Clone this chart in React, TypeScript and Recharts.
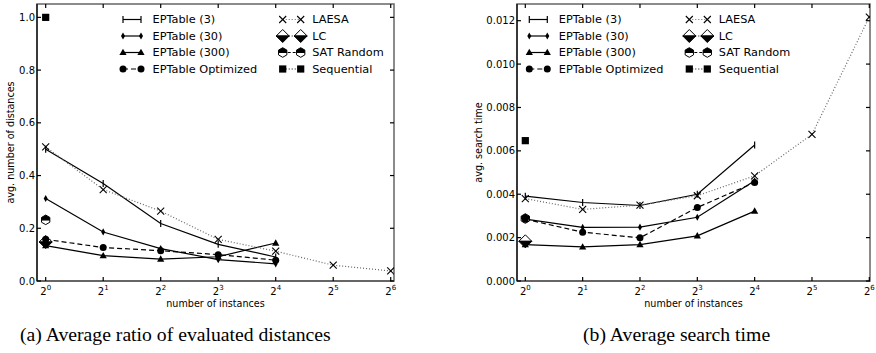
import React from "react";
import { LineChart, Line, XAxis, YAxis, ReferenceArea } from "recharts";

// log2 of the number of instances: 2^0 .. 2^6
const EXPONENTS = [0, 1, 2, 3, 4, 5, 6];

// (a) average ratio of evaluated distances
const ratioEPT3 = [0.5, 0.37, 0.218, 0.139, 0.091];
const ratioEPT30 = [0.313, 0.186, 0.123, 0.081, 0.065];
const ratioEPT300 = [0.134, 0.096, 0.083, 0.092, 0.144];
const ratioEPTOpt = [0.158, 0.127, 0.115, 0.1, 0.079];
const ratioLAESA = [0.509, 0.347, 0.265, 0.158, 0.113, 0.06, 0.038];
const ratioLC = [0.148];
const ratioSAT = [0.232];
const ratioSeq = [1.0];
const ratioTicks = [0, 0.2, 0.4, 0.6, 0.8, 1.0];

// (b) average search time
const timeEPT3 = [0.00391, 0.00362, 0.00348, 0.004, 0.00627];
const timeEPT30 = [0.00285, 0.00247, 0.00248, 0.00294, 0.00462];
const timeEPT300 = [0.00168, 0.00157, 0.00168, 0.00208, 0.00322];
const timeEPTOpt = [0.00285, 0.00225, 0.00199, 0.00339, 0.00454];
const timeLAESA = [0.0038, 0.0033, 0.0035, 0.00393, 0.00485, 0.00676, 0.01217];
const timeLC = [0.00183];
const timeSAT = [0.00288];
const timeSeq = [0.00647];
const timeTicks = [0, 0.002, 0.004, 0.006, 0.008, 0.01, 0.012];

const FONT = "'DejaVu Sans', sans-serif";

type Shape = "vtick" | "thin" | "tri" | "circle" | "x" | "lc" | "hex" | "square";

function Marker({ shape, cx, cy }: { shape: Shape; cx: number; cy: number }) {
  switch (shape) {
    case "vtick":
      return <line x1={cx} x2={cx} y1={cy - 3.5} y2={cy + 3.5} stroke="#000" strokeWidth={1.2} />;
    case "thin":
      return (
        <polygon
          points={`${cx},${cy - 3.6} ${cx + 2},${cy} ${cx},${cy + 3.6} ${cx - 2},${cy}`}
          fill="#000"
        />
      );
    case "tri":
      return (
        <polygon
          points={`${cx},${cy - 3.8} ${cx + 3.6},${cy + 2.6} ${cx - 3.6},${cy + 2.6}`}
          fill="#000"
        />
      );
    case "circle":
      return <circle cx={cx} cy={cy} r={3.5} fill="#000" />;
    case "x":
      return (
        <g stroke="#000" strokeWidth={1.1}>
          <line x1={cx - 3.5} y1={cy - 3.5} x2={cx + 3.5} y2={cy + 3.5} />
          <line x1={cx - 3.5} y1={cy + 3.5} x2={cx + 3.5} y2={cy - 3.5} />
        </g>
      );
    case "lc": {
      const r = 6.5;
      return (
        <g stroke="#000" strokeWidth={1}>
          <polygon points={`${cx - r},${cy} ${cx},${cy - r} ${cx + r},${cy}`} fill="#fff" />
          <polygon points={`${cx - r},${cy} ${cx},${cy + r} ${cx + r},${cy}`} fill="#000" />
        </g>
      );
    }
    case "hex": {
      const r = 4.8;
      const w = 0.866 * r;
      return (
        <g stroke="#000" strokeWidth={1}>
          <polygon
            points={`${cx - w},${cy} ${cx - w},${cy + r / 2} ${cx},${cy + r} ${cx + w},${cy + r / 2} ${cx + w},${cy}`}
            fill="#fff"
          />
          <polygon
            points={`${cx - w},${cy} ${cx - w},${cy - r / 2} ${cx},${cy - r} ${cx + w},${cy - r / 2} ${cx + w},${cy}`}
            fill="#000"
          />
        </g>
      );
    }
    case "square":
      return <rect x={cx - 3.6} y={cy - 3.6} width={7.2} height={7.2} fill="#000" />;
  }
  return null;
}

type Series = {
  name: string;
  values: number[];
  shape: Shape;
  dash?: string;
  stroke?: string;
  legendDash?: string;
};

const makeSeries = (
  ept3: number[],
  ept30: number[],
  ept300: number[],
  eptOpt: number[],
  laesa: number[],
  lc: number[],
  sat: number[],
  seq: number[],
): Series[] => [
  { name: "EPTable (3)", values: ept3, shape: "vtick" },
  { name: "EPTable (30)", values: ept30, shape: "thin" },
  { name: "EPTable (300)", values: ept300, shape: "tri" },
  { name: "EPTable Optimized", values: eptOpt, shape: "circle", dash: "5 3" },
  { name: "LAESA", values: laesa, shape: "x", dash: "1 2", stroke: "#666" },
  { name: "LC", values: lc, shape: "lc", legendDash: "1 2" },
  { name: "SAT Random", values: sat, shape: "hex", legendDash: "3 2" },
  { name: "Sequential", values: seq, shape: "square", legendDash: "1 2" },
];

const ratioSeries = makeSeries(
  ratioEPT3, ratioEPT30, ratioEPT300, ratioEPTOpt, ratioLAESA, ratioLC, ratioSAT, ratioSeq,
);
const timeSeries = makeSeries(
  timeEPT3, timeEPT30, timeEPT300, timeEPTOpt, timeLAESA, timeLC, timeSAT, timeSeq,
);

const toPoints = (vals: number[]) => vals.map((v, i) => ({ x: EXPONENTS[i], y: v }));

// single-point series first so the EPTable markers sit on top of them
const DRAW_ORDER = [5, 6, 7, 0, 1, 2, 3, 4];

type PanelProps = {
  left: number;
  width: number;
  height: number;
  yAxisWidth: number;
  rightMargin: number;
  xDomain: [number, number];
  yDomain: [number, number];
  yTicks: number[];
  yDigits: number;
  series: Series[];
  yLabel: string;
  yLabelX: number;
  legendX: [number, number];
};

function Panel(p: PanelProps) {
  const top = 4;
  const xAxisH = 29;
  const plotH = p.height - top - xAxisH;
  const plotW = p.width - p.yAxisWidth - p.rightMargin;
  const plotL = p.yAxisWidth;

  const xTick = (t: any) => (
    <g>
      <line x1={t.x} x2={t.x} y1={t.y} y2={t.y - 4} stroke="#000" strokeWidth={1.2} />
      <line x1={t.x} x2={t.x} y1={t.y - plotH} y2={t.y - plotH + 4} stroke="#000" strokeWidth={1.2} />
      <text x={t.x} y={t.y + 14} textAnchor="middle" fontSize={10} fontFamily={FONT} fill="#000">
        <tspan>2</tspan>
        <tspan dy={-5} fontSize={7}>
          {t.payload.value}
        </tspan>
      </text>
    </g>
  );

  const yTick = (t: any) => (
    <g>
      <line x1={t.x} x2={t.x + 4} y1={t.y} y2={t.y} stroke="#000" strokeWidth={1.2} />
      <line x1={t.x + plotW - 4} x2={t.x + plotW} y1={t.y} y2={t.y} stroke="#000" strokeWidth={1.2} />
      <text
        x={t.x - 2}
        y={t.y}
        textAnchor="end"
        dominantBaseline="central"
        fontSize={10}
        fontFamily={FONT}
        fill="#000"
      >
        {Number(t.payload.value).toFixed(p.yDigits)}
      </text>
    </g>
  );

  const rows = [19.5, 36, 52.5, 69];

  return (
    <div style={{ position: "absolute", left: p.left, top: 0, width: p.width, height: p.height }}>
      <LineChart
        width={p.width}
        height={p.height}
        margin={{ top, right: p.rightMargin, left: 0, bottom: 0 }}
      >
        <XAxis
          type="number"
          dataKey="x"
          domain={p.xDomain}
          ticks={EXPONENTS}
          interval={0}
          allowDataOverflow
          height={xAxisH}
          tickSize={0}
          tickMargin={0}
          tick={xTick}
          axisLine={{ stroke: "#666", strokeWidth: 2 }}
        />
        <YAxis
          type="number"
          dataKey="y"
          domain={p.yDomain}
          ticks={p.yTicks}
          interval={0}
          allowDataOverflow
          width={p.yAxisWidth}
          tickSize={0}
          tickMargin={0}
          tick={yTick}
          axisLine={{ stroke: "#000", strokeWidth: 1.2 }}
        />
        <ReferenceArea
          x1={p.xDomain[0]}
          x2={p.xDomain[1]}
          y1={p.yDomain[0]}
          y2={p.yDomain[1]}
          fill="none"
          stroke="#666"
          strokeWidth={1.5}
        />
        {DRAW_ORDER.map((i) => {
          const s = p.series[i];
          return (
            <Line
              key={s.name}
              data={toPoints(s.values)}
              dataKey="y"
              name={s.name}
              type="linear"
              stroke={s.stroke ?? "#000"}
              strokeWidth={1.2}
              strokeDasharray={s.dash}
              isAnimationActive={false}
              dot={(d: any) =>
                d.cx == null || d.cy == null ? (
                  <g key={d.index} />
                ) : (
                  <Marker key={d.index} shape={s.shape} cx={d.cx} cy={d.cy} />
                )
              }
              activeDot={false}
            />
          );
        })}
      </LineChart>
      <svg
        width={p.width}
        height={p.height}
        style={{ position: "absolute", left: 0, top: 0, pointerEvents: "none" }}
      >
        {p.series.map((s, i) => {
          const col = i < 4 ? 0 : 1;
          const x0 = p.legendX[col];
          const y = rows[i % 4];
          return (
            <g key={s.name}>
              <line
                x1={x0}
                x2={x0 + 18}
                y1={y}
                y2={y}
                stroke={s.stroke ?? "#000"}
                strokeWidth={1.2}
                strokeDasharray={s.dash ?? s.legendDash}
              />
              <Marker shape={s.shape} cx={x0} cy={y} />
              <Marker shape={s.shape} cx={x0 + 18} cy={y} />
              <text
                x={x0 + 29.5}
                y={y}
                dominantBaseline="central"
                fontSize={11.3}
                fontFamily={FONT}
                fill="#000"
              >
                {s.name}
              </text>
            </g>
          );
        })}
        <text
          transform={`translate(${p.yLabelX}, ${top + plotH / 2}) rotate(-90)`}
          textAnchor="middle"
          dominantBaseline="central"
          fontSize={9.6}
          fontFamily={FONT}
          fill="#000"
        >
          {p.yLabel}
        </text>
        <text
          x={plotL + plotW / 2}
          y={top + plotH + 26}
          textAnchor="middle"
          fontSize={9.6}
          fontFamily={FONT}
          fill="#000"
        >
          number of instances
        </text>
      </svg>
    </div>
  );
}

export default function App() {
  return (
    <div
      style={{
        position: "absolute",
        left: 0,
        top: 0,
        width: 876,
        height: 353,
        background: "#fff",
        overflow: "hidden",
      }}
    >
      <Panel
        left={0}
        width={440}
        height={310}
        yAxisWidth={37}
        rightMargin={46}
        xDomain={[-0.151, 6.057]}
        yDomain={[0, 1.0507]}
        yTicks={ratioTicks}
        yDigits={1}
        series={ratioSeries}
        yLabel="avg. number of distances"
        yLabelX={10}
        legendX={[123, 282.7]}
      />
      <Panel
        left={440}
        width={436}
        height={310}
        yAxisWidth={77}
        rightMargin={6}
        xDomain={[-0.145, 6.012]}
        yDomain={[0, 0.01277]}
        yTicks={timeTicks}
        yDigits={3}
        series={timeSeries}
        yLabel="avg. search time"
        yLabelX={38}
        legendX={[89.3, 249.3]}
      />
      <svg
        width={876}
        height={353}
        style={{ position: "absolute", left: 0, top: 0, pointerEvents: "none" }}
      >
        <text x={20} y={341} fontSize={19.7} fontFamily="'Liberation Serif', serif" fill="#000">
          (a) Average ratio of evaluated distances
        </text>
        <text x={583} y={341} fontSize={19.7} fontFamily="'Liberation Serif', serif" fill="#000">
          (b) Average search time
        </text>
      </svg>
    </div>
  );
}
